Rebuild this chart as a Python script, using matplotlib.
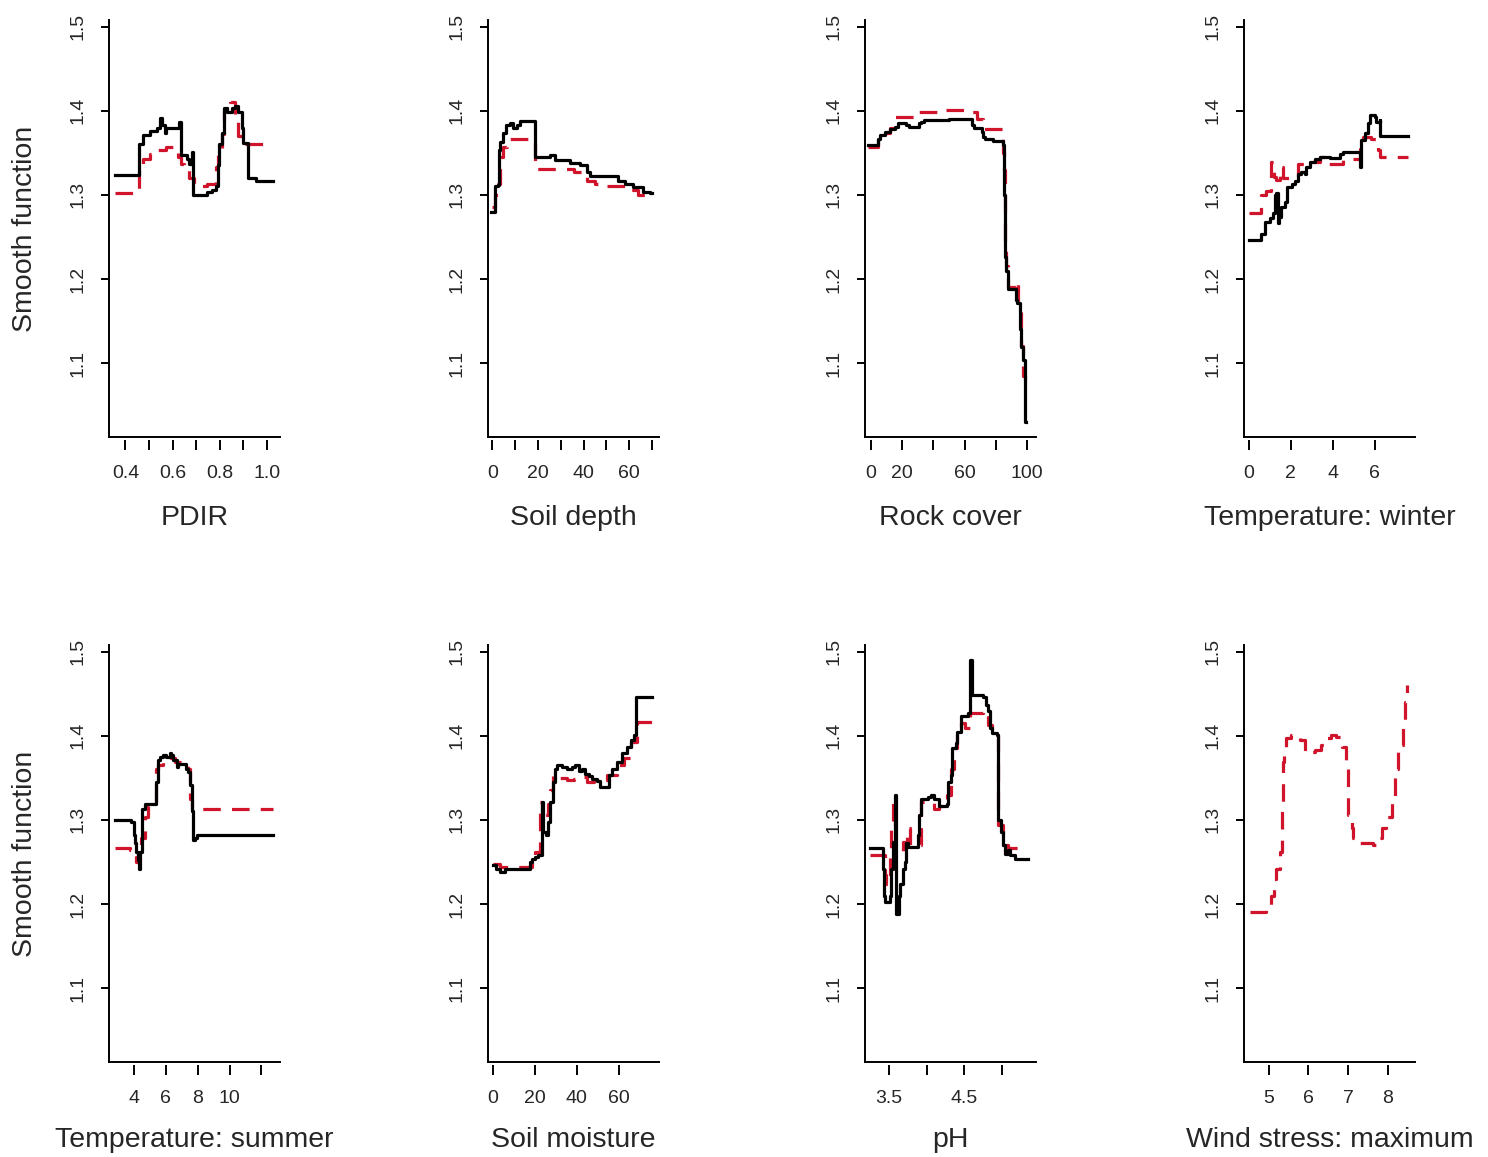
import matplotlib
matplotlib.use('Agg')
import matplotlib.pyplot as plt

plt.rcParams['font.family'] = ['Liberation Sans', 'DejaVu Sans']

# ---- partial dependence curves (black = model 1, red dashed = model 2) ----

# PDIR
pdir_x_black = [0.355, 0.457, 0.475, 0.504, 0.532, 0.546, 0.556, 0.567, 0.574, 0.628, 0.638, 0.660,
                0.671, 0.681, 0.685, 0.745, 0.766, 0.787, 0.794, 0.799, 0.809, 0.818, 0.830, 0.851,
                0.865, 0.879, 0.894, 0.901, 0.919, 0.957, 1.028]
pdir_y_black = [1.324, 1.361, 1.371, 1.376, 1.379, 1.391, 1.383, 1.373, 1.379, 1.387, 1.347, 1.343,
                1.337, 1.351, 1.300, 1.303, 1.306, 1.310, 1.336, 1.360, 1.373, 1.403, 1.398, 1.403,
                1.406, 1.398, 1.380, 1.362, 1.320, 1.316, 1.316]
pdir_x_red = [0.355, 0.457, 0.475, 0.504, 0.532, 0.574, 0.624, 0.638, 0.650, 0.671, 0.690, 0.745,
              0.787, 0.794, 0.809, 0.818, 0.830, 0.844, 0.865, 0.879, 0.894, 0.915, 1.028]
pdir_y_red = [1.302, 1.337, 1.343, 1.349, 1.353, 1.357, 1.345, 1.337, 1.335, 1.320, 1.310, 1.313,
              1.333, 1.350, 1.372, 1.400, 1.413, 1.410, 1.389, 1.370, 1.361, 1.360, 1.360]

# Soil depth
depth_x_black = [-0.4, 1.0, 2.5, 2.9, 3.2, 4.7, 6.2, 7.6, 9.1, 10.9, 12.1, 18.7, 25.3, 27.5, 34.1,
                 38.5, 41.5, 42.9, 55.0, 58.0, 61.5, 66.0, 69.0, 70.0]
depth_y_black = [1.280, 1.310, 1.312, 1.353, 1.363, 1.373, 1.383, 1.385, 1.379, 1.383, 1.388, 1.345,
                 1.347, 1.342, 1.338, 1.335, 1.327, 1.322, 1.317, 1.313, 1.309, 1.304, 1.302, 1.302]
depth_x_red = [0.0, 1.0, 2.5, 3.2, 4.7, 6.5, 18.7, 35.6, 41.5, 45.0, 50.0, 58.5, 64.0, 70.0]
depth_y_red = [1.286, 1.300, 1.313, 1.345, 1.357, 1.367, 1.331, 1.327, 1.317, 1.313, 1.311, 1.306,
               1.300, 1.300]

# Rock cover
rock_x_black = [-1.5, 4.8, 5.9, 9.0, 12.2, 15.3, 17.4, 22.7, 24.8, 31.1, 32.1, 34.2, 50.0, 64.7,
                65.8, 71.0, 72.1, 73.1, 78.4, 84.7, 85.1, 85.7, 86.8, 87.8, 93.1, 93.7, 95.2, 96.2,
                97.3, 98.7, 99.2]
rock_y_black = [1.359, 1.367, 1.371, 1.375, 1.378, 1.381, 1.385, 1.383, 1.381, 1.385, 1.387, 1.389,
                1.390, 1.383, 1.380, 1.375, 1.369, 1.367, 1.364, 1.359, 1.300, 1.226, 1.210, 1.188,
                1.175, 1.171, 1.140, 1.119, 1.103, 1.030, 1.030]
rock_x_red = [-1.5, 4.8, 9.0, 12.2, 15.3, 30.0, 45.0, 62.0, 68.0, 72.0, 84.7, 85.3, 85.7, 86.5,
              87.8, 93.1, 94.0, 96.0, 97.3, 98.7, 99.2]
rock_y_red = [1.357, 1.365, 1.373, 1.380, 1.393, 1.398, 1.401, 1.398, 1.390, 1.378, 1.350, 1.330,
              1.245, 1.215, 1.190, 1.197, 1.160, 1.120, 1.085, 1.080, 1.080]

# Temperature: winter
twin_x_black = [0.0, 0.59, 0.75, 0.99, 1.15, 1.23, 1.31, 1.39, 1.44, 1.55, 1.71, 1.83, 2.03, 2.18,
                2.34, 2.50, 2.66, 2.74, 2.90, 3.14, 3.38, 3.86, 4.34, 4.50, 5.30, 5.33, 5.53, 5.69,
                5.77, 6.01, 6.09, 6.25, 6.28, 7.61]
twin_y_black = [1.246, 1.254, 1.268, 1.272, 1.278, 1.300, 1.302, 1.266, 1.274, 1.286, 1.292, 1.309,
                1.313, 1.317, 1.325, 1.327, 1.325, 1.333, 1.339, 1.343, 1.345, 1.344, 1.349, 1.351,
                1.333, 1.365, 1.373, 1.385, 1.395, 1.393, 1.387, 1.389, 1.370, 1.370]
twin_x_red = [0.0, 0.59, 0.83, 1.07, 1.20, 1.31, 1.47, 1.63, 2.34, 2.66, 3.38, 3.70, 4.50, 5.30,
              5.45, 5.85, 6.15, 6.28, 7.61]
twin_y_red = [1.278, 1.300, 1.305, 1.339, 1.321, 1.318, 1.333, 1.320, 1.337, 1.339, 1.345, 1.337,
              1.343, 1.355, 1.369, 1.367, 1.353, 1.345, 1.345]

# Temperature: summer
tsum_x_black = [2.81, 3.85, 4.00, 4.06, 4.17, 4.27, 4.33, 4.38, 4.54, 4.69, 5.42, 5.53, 5.63, 5.84,
                6.05, 6.26, 6.36, 6.47, 6.68, 6.78, 7.26, 7.41, 7.51, 7.62, 7.72, 7.83, 7.97, 12.74]
tsum_y_black = [1.300, 1.298, 1.282, 1.272, 1.262, 1.252, 1.242, 1.262, 1.313, 1.319, 1.345, 1.371,
                1.375, 1.377, 1.375, 1.379, 1.377, 1.371, 1.363, 1.367, 1.361, 1.357, 1.341, 1.310,
                1.276, 1.278, 1.282, 1.282]
tsum_x_red = [2.81, 3.79, 4.17, 4.27, 4.48, 4.69, 4.90, 5.11, 5.42, 5.53, 5.84, 6.15, 6.36, 6.57,
              7.41, 7.51, 7.62, 7.72, 12.74]
tsum_y_red = [1.266, 1.264, 1.250, 1.264, 1.278, 1.304, 1.316, 1.318, 1.361, 1.365, 1.371, 1.375,
              1.373, 1.369, 1.361, 1.325, 1.313, 1.313, 1.313]

# Soil moisture
moist_x_black = [0.0, 1.6, 3.2, 5.6, 17.6, 18.4, 20.0, 21.6, 23.2, 23.7, 24.0, 25.3, 26.4, 27.2,
                 28.5, 29.6, 30.4, 32.8, 35.2, 37.6, 39.2, 40.8, 42.4, 44.0, 45.6, 47.2, 49.6, 51.2,
                 53.6, 55.2, 56.8, 59.2, 61.6, 64.0, 65.6, 67.2, 68.0, 76.0]
moist_y_black = [1.246, 1.242, 1.238, 1.242, 1.250, 1.254, 1.256, 1.258, 1.321, 1.290, 1.286, 1.282,
                 1.298, 1.321, 1.345, 1.361, 1.365, 1.363, 1.361, 1.363, 1.365, 1.358, 1.360, 1.355,
                 1.352, 1.349, 1.346, 1.339, 1.339, 1.353, 1.361, 1.369, 1.379, 1.387, 1.395, 1.401,
                 1.446, 1.446]
moist_x_red = [0.0, 3.2, 5.6, 10.4, 18.4, 20.0, 22.4, 23.2, 24.0, 26.4, 27.2, 28.5, 30.4, 35.2,
               38.4, 41.6, 44.8, 48.0, 54.4, 59.2, 62.4, 65.6, 68.8, 76.0]
moist_y_red = [1.248, 1.244, 1.244, 1.244, 1.256, 1.262, 1.321, 1.300, 1.306, 1.319, 1.335, 1.353,
               1.350, 1.347, 1.349, 1.351, 1.345, 1.347, 1.353, 1.365, 1.373, 1.393, 1.417, 1.417]

# pH
ph_x_black = [3.247, 3.421, 3.434, 3.443, 3.452, 3.509, 3.531, 3.552, 3.574, 3.587, 3.631, 3.648,
              3.683, 3.705, 3.718, 3.749, 3.880, 3.902, 3.924, 4.011, 4.055, 4.098, 4.164, 4.273,
              4.286, 4.317, 4.338, 4.382, 4.404, 4.448, 4.513, 4.544, 4.579, 4.600, 4.753, 4.784,
              4.819, 4.841, 4.871, 4.928, 4.950, 4.985, 5.015, 5.037, 5.081, 5.103, 5.168, 5.343]
ph_y_black = [1.266, 1.242, 1.210, 1.202, 1.202, 1.210, 1.242, 1.274, 1.329, 1.188, 1.210, 1.224,
              1.242, 1.250, 1.272, 1.268, 1.282, 1.306, 1.325, 1.327, 1.329, 1.325, 1.317, 1.319,
              1.345, 1.353, 1.385, 1.391, 1.405, 1.423, 1.423, 1.427, 1.490, 1.448, 1.446, 1.437,
              1.429, 1.409, 1.403, 1.401, 1.300, 1.286, 1.270, 1.260, 1.264, 1.258, 1.254, 1.254]
ph_x_red = [3.247, 3.443, 3.465, 3.509, 3.531, 3.552, 3.574, 3.640, 3.683, 3.736, 3.780, 3.924,
            4.098, 4.164, 4.273, 4.317, 4.360, 4.404, 4.448, 4.513, 4.579, 4.753, 4.819, 4.871,
            4.950, 5.015, 5.081, 5.343]
ph_y_red = [1.258, 1.234, 1.224, 1.258, 1.290, 1.321, 1.258, 1.262, 1.274, 1.290, 1.270, 1.321,
            1.313, 1.317, 1.330, 1.361, 1.385, 1.405, 1.415, 1.409, 1.427, 1.429, 1.413, 1.401,
            1.294, 1.270, 1.266, 1.266]

# Wind stress: maximum (only the second model has this term)
wind_x_red = [4.52, 4.94, 5.07, 5.13, 5.19, 5.28, 5.34, 5.36, 5.39, 5.45, 5.57, 5.70, 5.78, 5.91,
              5.99, 6.16, 6.33, 6.46, 6.58, 6.71, 6.84, 6.96, 7.01, 7.09, 7.13, 7.22, 7.34, 7.64,
              7.76, 7.85, 7.97, 8.10, 8.18, 8.27, 8.40, 8.44, 8.48]
wind_y_red = [1.191, 1.196, 1.210, 1.230, 1.242, 1.262, 1.321, 1.369, 1.383, 1.397, 1.401, 1.397,
              1.395, 1.379, 1.381, 1.383, 1.389, 1.397, 1.401, 1.399, 1.387, 1.361, 1.306, 1.290,
              1.278, 1.272, 1.272, 1.270, 1.278, 1.290, 1.304, 1.321, 1.361, 1.389, 1.417, 1.440,
              1.460]

y_ticks = [1.1, 1.2, 1.3, 1.4, 1.5]
y_ticklabels = ['1.1', '1.2', '1.3', '1.4', '1.5']

# name, x limits, ticks, tick labels, black curve, red curve
panels = [
    ('PDIR', (0.33, 1.057), [0.4, 0.5, 0.6, 0.7, 0.8, 0.9, 1.0],
     ['0.4', '', '0.6', '', '0.8', '', '1.0'],
     (pdir_x_black, pdir_y_black), (pdir_x_red, pdir_y_red)),
    ('Soil depth', (-1.9, 73.1), [0, 10, 20, 30, 40, 50, 60, 70],
     ['0', '', '20', '', '40', '', '60', ''],
     (depth_x_black, depth_y_black), (depth_x_red, depth_y_red)),
    ('Rock cover', (-3.6, 105.7), [0, 20, 40, 60, 80, 100],
     ['0', '20', '', '60', '', '100'],
     (rock_x_black, rock_y_black), (rock_x_red, rock_y_red)),
    ('Temperature: winter', (-0.24, 7.93), [0, 2, 4, 6],
     ['0', '2', '4', '6'],
     (twin_x_black, twin_y_black), (twin_x_red, twin_y_red)),
    ('Temperature: summer', (2.45, 13.16), [4, 6, 8, 10, 12],
     ['4', '6', '8', '10', ''],
     (tsum_x_black, tsum_y_black), (tsum_x_red, tsum_y_red)),
    ('Soil moisture', (-2.4, 79.2), [0, 20, 40, 60],
     ['0', '20', '40', '60'],
     (moist_x_black, moist_y_black), (moist_x_red, moist_y_red)),
    ('pH', (3.18, 5.45), [3.5, 4.0, 4.5, 5.0],
     ['3.5', '', '4.5', ''],
     (ph_x_black, ph_y_black), (ph_x_red, ph_y_red)),
    ('Wind stress: maximum', (4.38, 8.69), [5, 6, 7, 8],
     ['5', '6', '7', '8'],
     None, (wind_x_red, wind_y_red)),
]

W, H = 1488, 1157
col_left = [109, 488, 865, 1244]
row_bottom = [437, 1062]
ax_w, ax_h = 171, 417
txt = '#262626'

fig = plt.figure(figsize=(W / 100, H / 100), dpi=100)

for i, (name, xlim, xt, xtl, black, red) in enumerate(panels):
    row, col = divmod(i, 4)
    ax = fig.add_axes([col_left[col] / W, 1 - row_bottom[row] / H, ax_w / W, ax_h / H])

    ax.plot(red[0], red[1], color='#d0142c', lw=2.3, ls=(0, (5.5, 3.5)),
            drawstyle='steps-post')
    if black is not None:
        ax.plot(black[0], black[1], color='black', lw=2.3, drawstyle='steps-post')

    ax.set_xlim(xlim)
    ax.set_ylim(1.012, 1.508)
    ax.set_xticks(xt)
    ax.set_xticklabels(xtl)
    ax.set_yticks(y_ticks)
    ax.set_yticklabels(y_ticklabels, rotation=90, va='center')

    # R style "L" box; the x axis ticks hang a little below the box line
    ax.spines['top'].set_visible(False)
    ax.spines['right'].set_visible(False)
    ax.spines['left'].set_linewidth(1.4)
    ax.spines['bottom'].set_position(('outward', 2.5))
    ax.spines['bottom'].set_linewidth(0)
    ax.plot([0, 1], [0, 0], transform=ax.transAxes, color='black', lw=1.4,
            clip_on=False, solid_capstyle='projecting')

    ax.tick_params(direction='out', width=1.4, labelsize=14, labelcolor=txt)
    ax.tick_params(axis='x', length=7.5, pad=10)
    ax.tick_params(axis='y', length=6, pad=10)

    off = 81 if row == 0 else 78
    ax.annotate(name, xy=(0.5, 0), xycoords='axes fraction', xytext=(0, -off * 0.72),
                textcoords='offset points', ha='center', va='center', fontsize=20.5,
                color=txt)

for row in range(2):
    yc = 1 - (row_bottom[row] - ax_h / 2) / H
    fig.text(25 / W, yc, 'Smooth function', rotation=90, ha='center', va='center',
             fontsize=20.5, color=txt)

fig.savefig('out.png', dpi=100, facecolor='white')
